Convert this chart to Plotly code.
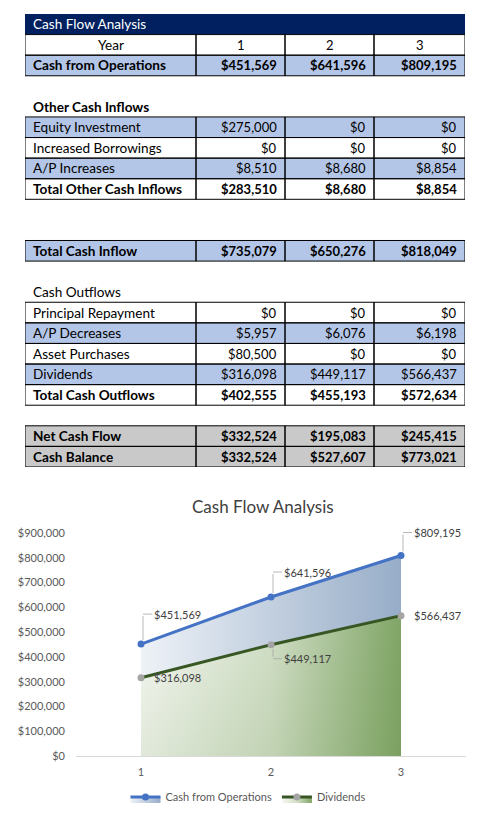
import plotly.graph_objects as go

# ---- data ----
years = [1, 2, 3]
cash_ops = [451569, 641596, 809195]

equity_investment = [275000, 0, 0]
increased_borrowings = [0, 0, 0]
ap_increases = [8510, 8680, 8854]
total_other_inflows = [283510, 8680, 8854]

total_cash_inflow = [735079, 650276, 818049]

principal_repayment = [0, 0, 0]
ap_decreases = [5957, 6076, 6198]
asset_purchases = [80500, 0, 0]
dividends = [316098, 449117, 566437]
total_cash_outflows = [402555, 455193, 572634]

net_cash_flow = [332524, 195083, 245415]
cash_balance = [332524, 527607, 773021]

W, H = 483, 815
FONT = "Lato"
NAVY = "#002060"
BLUE = "#b4c6e7"
GREY = "#c9c9c9"
COL_EDGES = [0, 171, 260, 349, 440]   # sheet column widths, cumulative
N_ROWS = 22                          # sheet rows from the title bar to the cash balance


def py(px):
    """pixel row -> paper y"""
    return 1 - px / H


def money(v):
    return f"${v:,.0f}"


# sheet row index, label, values, fill, bold
sheet = [
    (1, "Year", years, "white", False),
    (2, "Cash from Operations", cash_ops, BLUE, True),
    (5, "Equity Investment", equity_investment, BLUE, False),
    (6, "Increased Borrowings", increased_borrowings, "white", False),
    (7, "A/P Increases", ap_increases, BLUE, False),
    (8, "Total Other Cash Inflows", total_other_inflows, "white", True),
    (11, "Total Cash Inflow", total_cash_inflow, BLUE, True),
    (14, "Principal Repayment", principal_repayment, "white", False),
    (15, "A/P Decreases", ap_decreases, BLUE, False),
    (16, "Asset Purchases", asset_purchases, "white", False),
    (17, "Dividends", dividends, BLUE, False),
    (18, "Total Cash Outflows", total_cash_outflows, "white", True),
    (20, "Net Cash Flow", net_cash_flow, GREY, True),
    (21, "Cash Balance", cash_balance, GREY, True),
]
sections = [(0, "Cash Flow Analysis", "title"), (4, "<b>Other Cash Inflows</b>", "plain"),
            (13, "Cash Outflows", "plain")]

fig = go.Figure()

# ---- chart ----
fig.add_trace(go.Scatter(
    x=years, y=cash_ops, name="Cash from Operations", mode="lines+markers",
    line=dict(color="#4472c4", width=3), marker=dict(color="#4472c4", size=7),
    fill="tozeroy",
    fillgradient=dict(type="horizontal", colorscale=[[0, "#eef2f7"], [1, "#97adc8"]]),
))
fig.add_trace(go.Scatter(
    x=years, y=dividends, name="Dividends", mode="lines+markers",
    line=dict(color="#375623", width=3), marker=dict(color="#a5a5a5", size=7),
    fill="tozeroy",
    fillgradient=dict(type="horizontal",
                      colorscale=[[0, "#f6f8f3"], [0.5, "#d2dfc7"], [1, "#80a566"]]),
))
# darker toward the bottom, to get the diagonal look
fig.add_trace(go.Scatter(
    x=years, y=dividends, mode="none", showlegend=False, hoverinfo="skip",
    fill="tozeroy",
    fillgradient=dict(type="vertical", colorscale=[[0, "rgba(84,130,53,0.13)"],
                                                   [1, "rgba(84,130,53,0)"]]),
))
# empty trace so the sheet grid axes exist
fig.add_trace(go.Scatter(x=[], y=[], xaxis="x2", yaxis="y2", showlegend=False))

# ---- sheet (grid on x2/y2: x in column units, y in row units) ----
TXT = dict(family=FONT, size=13, color="black")
LABEL_TXT = dict(TXT, size=13.6)
shapes, notes = [], []
for r, text, kind in sections:
    if kind == "title":
        shapes.append(dict(type="rect", xref="x2", yref="y2", x0=COL_EDGES[0], x1=COL_EDGES[-1],
                           y0=r, y1=r + 1, fillcolor=NAVY, line=dict(width=0), layer="above"))
    notes.append(dict(xref="x2", yref="y2", x=COL_EDGES[0], y=r + 0.5, text=text,
                      xanchor="left", yanchor="middle", xshift=6, showarrow=False,
                      font=dict(LABEL_TXT, color="white") if kind == "title" else LABEL_TXT))

for r, label, vals, fill, bold in sheet:
    for c in range(4):
        shapes.append(dict(type="rect", xref="x2", yref="y2", x0=COL_EDGES[c], x1=COL_EDGES[c + 1],
                           y0=r, y1=r + 1, fillcolor=fill, line=dict(width=0), layer="above"))
for r, label, vals, fill, bold in sheet:
    for c in range(4):
        shapes.append(dict(type="rect", xref="x2", yref="y2", x0=COL_EDGES[c], x1=COL_EDGES[c + 1],
                           y0=r, y1=r + 1, fillcolor="rgba(0,0,0,0)",
                           line=dict(color="black", width=1), layer="above"))
    centred = label == "Year"
    cells = [label] + [str(v) if centred else money(v) for v in vals]
    for c, s in enumerate(cells):
        s = f"<b>{s}</b>" if bold else s
        if centred:
            x, anchor, shift = (COL_EDGES[c] + COL_EDGES[c + 1]) / 2, "center", 0
        elif c == 0:
            x, anchor, shift = COL_EDGES[c], "left", 6
        else:
            x, anchor, shift = COL_EDGES[c + 1], "right", -6
        notes.append(dict(xref="x2", yref="y2", x=x, y=r + 0.5, text=s, xanchor=anchor,
                          yanchor="middle", xshift=shift, showarrow=False,
                          font=LABEL_TXT if c == 0 else TXT))

# ---- chart texts ----
notes.append(dict(text="Cash Flow Analysis", xref="paper", yref="paper", x=263 / W, y=py(506),
                  xanchor="center", yanchor="middle", showarrow=False,
                  font=dict(family=FONT, size=17, color="#404040")))

LBL = dict(family=FONT, size=11, color="#404040")
LEAD = "#a6a6a6"
# (x, y, vertical leader px: + up / - down / 0 none)
points = list(zip(years, cash_ops, [30, 25, 23])) + list(zip(years, dividends, [0, -14, 0]))
for x, v, d in points:
    if d == 0:
        notes.append(dict(x=x, y=v, text=money(v), showarrow=False, xanchor="left",
                          xshift=11, font=LBL))
        continue
    notes.append(dict(x=x, y=v, text=" ", font=dict(size=1), showarrow=True, arrowhead=0,
                      arrowwidth=0.8, arrowcolor=LEAD, ax=0, ay=-d, standoff=4, xshift=2))
    notes.append(dict(x=x, y=v, text=money(v), font=LBL, showarrow=True, arrowhead=0,
                      arrowwidth=0.8, arrowcolor=LEAD, ax=9, ay=0, xanchor="left",
                      yshift=d, xshift=2))

fig.update_layout(
    width=W, height=H,
    margin=dict(l=0, r=0, t=0, b=0, autoexpand=False),
    paper_bgcolor="white", plot_bgcolor="white",
    font=dict(family=FONT, color="#595959"),
    xaxis=dict(domain=[76 / W, 466 / W], range=[0.5, 3.5], tickvals=years,
               showgrid=False, zeroline=False, showline=True, linecolor="#d9d9d9",
               tickfont=dict(size=11, color="#595959"), ticklabelstandoff=6),
    yaxis=dict(domain=[py(756), py(533)], range=[0, 900000], dtick=100000,
               tickprefix="$", tickformat=",", showgrid=False, zeroline=False,
               tickfont=dict(size=11, color="#595959"), ticklabelstandoff=10),
    xaxis2=dict(domain=[25 / W, 465 / W], range=[COL_EDGES[0], COL_EDGES[-1]],
                visible=False, anchor="y2", fixedrange=True),
    yaxis2=dict(domain=[py(14 + 20.59 * N_ROWS), py(14)], range=[N_ROWS, 0],
                visible=False, anchor="x2", fixedrange=True),
    showlegend=True,
    legend=dict(orientation="h", x=248 / W, xanchor="center", y=py(797), yanchor="middle",
                font=dict(size=11, color="#595959")),
    shapes=shapes,
    annotations=notes,
)

fig.write_html("out.html", config={"displayModeBar": False},
               post_script="document.body.style.margin='0';")
